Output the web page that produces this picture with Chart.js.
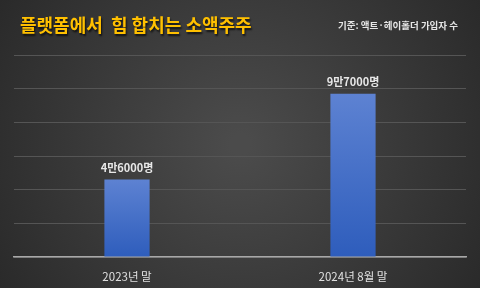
<!DOCTYPE html>
<html>
<head>
<meta charset="utf-8">
<script src="https://cdn.jsdelivr.net/npm/chart.js@4"></script>
<style>
  html, body { margin: 0; padding: 0; background: #333; }
  #wrap { width: 480px; height: 288px; }
</style>
</head>
<body>
<div id="wrap"><canvas id="myChart" width="480" height="288"></canvas></div>
<script>
const ctx = document.getElementById('myChart');

const categories = ['2023년 말', '2024년 8월 말'];
const holders = [46000, 97000];
const valueLabels = ['4만6000명', '9만7000명'];
const titleText = '플랫폼에서  힘 합치는 소액주주';
const sourceText = '기준: 액트·헤이홀더 가입자 수';

const KR = '"Noto Sans CJK KR", "Noto Sans", sans-serif';

// background + header texts
const backdrop = {
  id: 'backdrop',
  beforeDraw: (chart) => {
    const {ctx, width, height} = chart;
    ctx.save();
    const g = ctx.createRadialGradient(width / 2, height / 2, 10, width / 2, height / 2, width * 0.6);
    g.addColorStop(0, '#4b4b4b');
    g.addColorStop(1, '#292929');
    ctx.fillStyle = g;
    ctx.fillRect(0, 0, width, height);

    ctx.textBaseline = 'middle';
    ctx.shadowColor = 'rgba(0,0,0,0.7)';
    ctx.shadowOffsetX = 1;
    ctx.shadowOffsetY = 2;
    ctx.shadowBlur = 2;
    ctx.fillStyle = '#ffc000';
    ctx.font = 'bold 18px ' + KR;
    ctx.textAlign = 'left';
    ctx.fillText(titleText, 20, 25);

    ctx.shadowColor = 'transparent';
    ctx.fillStyle = '#e6e6e6';
    ctx.font = 'bold 9.5px ' + KR;
    ctx.textAlign = 'right';
    ctx.fillText(sourceText, 458, 25);
    ctx.restore();
  }
};

// value labels above bars
const barLabels = {
  id: 'barLabels',
  afterDatasetsDraw: (chart) => {
    const {ctx} = chart;
    const meta = chart.getDatasetMeta(0);
    ctx.save();
    ctx.fillStyle = '#e8e8e8';
    ctx.font = 'bold 11px ' + KR;
    ctx.textAlign = 'center';
    ctx.textBaseline = 'bottom';
    meta.data.forEach((bar, i) => {
      ctx.fillText(valueLabels[i], bar.x, bar.y - 6);
    });
    ctx.restore();
  }
};

new Chart(ctx, {
  type: 'bar',
  data: {
    labels: categories,
    datasets: [{
      data: holders,
      backgroundColor: (c) => {
        const chart = c.chart;
        const area = chart.chartArea;
        if (!area || c.raw == null) return '#4a72c8';
        const top = chart.scales.y.getPixelForValue(c.raw);
        const g = chart.ctx.createLinearGradient(0, top, 0, area.bottom);
        g.addColorStop(0, '#5d82d2');
        g.addColorStop(1, '#2e5dbc');
        return g;
      },
      borderWidth: 0,
      barPercentage: 0.4,
      categoryPercentage: 0.5
    }]
  },
  options: {
    responsive: false,
    animation: false,
    layout: { padding: { top: 55, left: 14, right: 14, bottom: 0 } },
    plugins: {
      legend: { display: false },
      tooltip: { enabled: false }
    },
    scales: {
      x: {
        afterFit: (scale) => { scale.height = 31; },
        grid: { display: false, drawTicks: false },
        border: { display: true, color: '#a8a8a8', width: 1.5 },
        ticks: { color: '#e0e0e0', font: { family: KR, size: 11.5 }, padding: 13 }
      },
      y: {
        min: 0,
        max: 120000,
        ticks: { display: false, stepSize: 20000 },
        grid: { color: '#555555', lineWidth: 1, drawTicks: false },
        border: { display: false }
      }
    }
  },
  plugins: [backdrop, barLabels]
});
</script>
</body>
</html>
